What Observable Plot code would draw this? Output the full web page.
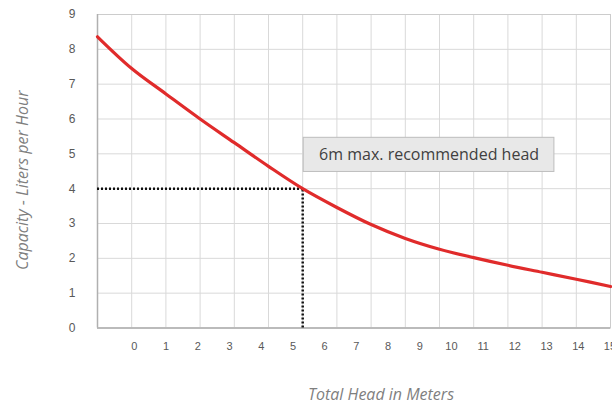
<!DOCTYPE html>
<html>
<head>
<meta charset="utf-8">
<script src="https://cdn.jsdelivr.net/npm/d3@7"></script>
<script src="https://cdn.jsdelivr.net/npm/@observablehq/plot@0.6"></script>
<style>
  html, body { margin: 0; padding: 0; background: #fff; }
  #chart svg { display: block; }
</style>
</head>
<body>
<div id="chart"></div>
<script>
// ---- data ----
const headMeters = [0, 1, 2, 3, 4, 5, 6, 7, 8, 9, 10, 11, 12, 13, 14, 15];
const capacityLph = [8.36, 7.45, 6.72, 6.0, 5.32, 4.64, 4.0, 3.46, 2.97, 2.57, 2.26, 2.02, 1.80, 1.60, 1.40, 1.19];
const xTickLabels = [0, 1, 2, 3, 4, 5, 6, 7, 8, 9, 10, 11, 12, 13, 14, 15];
const yTicks = [0, 1, 2, 3, 4, 5, 6, 7, 8, 9];
const maxHead = [6];
const maxHeadCapacity = [4];
const noteText = ["6m max. recommended head"];
const noteX = [6.03, 13.36];
const noteY = [4.48, 5.46];
const xTitle = ["Total Head in Meters"];
const yTitle = ["Capacity - Liters per Hour"];

const curve = headMeters.map((x, i) => ({x, y: capacityLph[i]}));
// the reference's tick labels are drawn offset from the gridlines
const labelStart = 1.08, labelStep = 0.927;
const labelPos = xTickLabels.map((d, i) => labelStart + labelStep * i);

const font = "'Open Sans', Lato, sans-serif";

const chart = Plot.plot({
  width: 612,
  height: 413,
  marginLeft: 97,
  marginRight: 2,
  marginTop: 14,
  marginBottom: 85.5,
  style: {fontFamily: font, background: "#fff"},
  x: {domain: [0, 15]},
  y: {domain: [0, 9]},
  marks: [
    Plot.gridX(headMeters, {stroke: "#d9d9d9", strokeOpacity: 1}),
    Plot.gridY(yTicks, {stroke: "#d9d9d9", strokeOpacity: 1}),
    Plot.frame({stroke: "#cccccc"}),
    Plot.ruleX([0], {stroke: "#b0b0b0", strokeWidth: 1.5}),
    Plot.ruleY([0], {stroke: "#b0b0b0", strokeWidth: 1.5}),
    Plot.axisY(yTicks, {tickSize: 0, tickPadding: 22, fill: "#595959", fontSize: 12, label: null,
      fontFamily: "Arial, 'Liberation Sans', sans-serif"}),
    Plot.axisX(labelPos, {tickSize: 0, tickPadding: 14, fill: "#595959", fontSize: 11, label: null,
      fontFamily: "Arial, 'Liberation Sans', sans-serif",
      tickFormat: (d, i) => xTickLabels[i]}),
    Plot.ruleY(maxHeadCapacity, {x1: 0, x2: maxHead[0], stroke: "#111", strokeWidth: 2.5, strokeDasharray: "2,2"}),
    Plot.ruleX(maxHead, {y1: 0, y2: maxHeadCapacity[0], stroke: "#111", strokeWidth: 2.5, strokeDasharray: "2,2"}),
    Plot.line(curve, {x: "x", y: "y", stroke: "#e02b2b", strokeWidth: 3.2, curve: "catmull-rom"}),
    Plot.rect(noteText, {x1: () => noteX[0], x2: () => noteX[1], y1: () => noteY[0], y2: () => noteY[1],
      fill: "#e8e8e8", stroke: "#bdbdbd", strokeWidth: 1}),
    Plot.text(noteText, {x: () => (noteX[0] + noteX[1]) / 2, y: () => (noteY[0] + noteY[1]) / 2,
      text: d => d, fontSize: 16, fill: "#404040"}),
    Plot.text(xTitle, {frameAnchor: "bottom", text: d => d, dx: 27, dy: 72, fontSize: 16,
      fontStyle: "italic", fill: "#7f7f7f"}),
    Plot.text(yTitle, {frameAnchor: "left", textAnchor: "middle", text: d => d, rotate: -90, dx: -75, dy: 9,
      fontSize: 16, fontStyle: "italic", fill: "#7f7f7f"})
  ]
});
document.getElementById("chart").append(chart);
</script>
</body>
</html>
